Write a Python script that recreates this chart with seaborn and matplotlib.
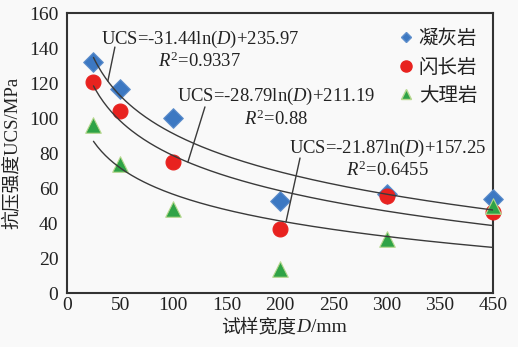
import numpy as np
import pandas as pd
import matplotlib
matplotlib.use("Agg")
import matplotlib.pyplot as plt
import seaborn as sns
from matplotlib.lines import Line2D
from matplotlib.offsetbox import TextArea, HPacker, AnnotationBbox

# ---- data ----
widths = [25, 50, 100, 200, 300, 400]          # plotted positions (last tick labelled 450)
tuff = [132, 117, 100, 53, 57, 54]              # 凝灰岩
diorite = [120.5, 104, 75, 37, 55.5, 46.5]      # 闪长岩
marble = [96, 74, 48, 14, 31, 50]               # 大理岩
rock_names = ["凝灰岩", "闪长岩", "大理岩"]
fit_a = [-31.44, -28.79, -21.87]
fit_b = [235.97, 211.19, 157.25]
fit_r2 = ["0.9337", "0.88", "0.6455"]
xtick_vals = [0, 50, 100, 150, 200, 250, 300, 350, 400]
xtick_labels = ["0", "50", "100", "150", "200", "250", "300", "350", "450"]
ytick_vals = [0, 20, 40, 60, 80, 100, 120, 140, 160]

sns.set_theme(style="white")
plt.rcParams["font.family"] = ["Liberation Serif", "Noto Sans CJK SC"]
plt.rcParams["mathtext.fontset"] = "custom"
plt.rcParams["mathtext.rm"] = "Liberation Serif"
plt.rcParams["mathtext.it"] = "Liberation Serif:italic"

bg = "#f9f9f9"
txt = "#222222"
fig = plt.figure(figsize=(5.18, 3.47), dpi=100, facecolor=bg)
ax = fig.add_axes([0.129, 0.1547, 0.823, 0.807])
ax.set_facecolor(bg)

df = pd.DataFrame({
    "D": widths * 3,
    "UCS": tuff + diorite + marble,
    "rock": [rock_names[0]] * 6 + [rock_names[1]] * 6 + [rock_names[2]] * 6,
})
palette = {rock_names[0]: "#3c78c2", rock_names[1]: "#e8221f", rock_names[2]: "#2fa346"}
markers = {rock_names[0]: "D", rock_names[1]: "o", rock_names[2]: "^"}
edge = {rock_names[0]: "#5f8fcc", rock_names[1]: "#e8221f", rock_names[2]: "#b7d88f"}
sizes = {rock_names[0]: 100, rock_names[1]: 115, rock_names[2]: 125}

for name in rock_names:
    sub = df[df["rock"] == name]
    sns.scatterplot(data=sub, x="D", y="UCS", ax=ax, color=palette[name],
                    marker=markers[name], s=sizes[name], edgecolor=edge[name],
                    linewidth=0.8, zorder=3, legend=False, clip_on=False)

# fitted curves
xs = np.linspace(25, 400, 200)
for a, b in zip(fit_a, fit_b):
    sns.lineplot(x=xs, y=a * np.log(xs) + b, ax=ax, color="#3a3a3a",
                 linewidth=1.0, zorder=4)

# annotations
texts = [
    ((124.9, 139.0), (45.1, 140.7), (38.5, 121.3)),
    ((196.2, 106.2), (129.6, 106.5), (113.6, 75.0)),
    ((300.5, 76.7), (218.8, 77.3), (205.6, 40.7)),
]
for (a, b, r2, (pos, p0, p1)) in zip(fit_a, fit_b, fit_r2, texts):
    ax.text(pos[0], pos[1], "UCS=%.2fln($\\mathit{D}$)+%.2f\n$\\mathit{R}^{2}$=%s" % (a, b, r2),
            ha="center", va="center", fontsize=13.4, color=txt,
            linespacing=1.15, zorder=5)
    ax.plot([p0[0], p1[0]], [p0[1], p1[1]], color="#3a3a3a", linewidth=1.0, zorder=4)

# legend
handles = [
    Line2D([], [], linestyle="none", marker="D", markersize=5.5, color=palette[rock_names[0]],
           markeredgecolor=edge[rock_names[0]]),
    Line2D([], [], linestyle="none", marker="o", markersize=8, color=palette[rock_names[1]],
           markeredgecolor=edge[rock_names[1]]),
    Line2D([], [], linestyle="none", marker="^", markersize=7, color=palette[rock_names[2]],
           markeredgecolor=edge[rock_names[2]]),
]
leg = ax.legend(handles, rock_names, loc="upper left", bbox_to_anchor=(0.75, 0.997),
                frameon=False, handlelength=0.6, handletextpad=0.35,
                labelspacing=0.4, borderpad=0.2,
                prop={"family": ["Noto Sans CJK SC"], "size": 14})
for t in leg.get_texts():
    t.set_color(txt)

ax.set_xlim(0, 400)
ax.set_ylim(0, 160)
ax.set_xticks(xtick_vals)
ax.set_xticklabels(xtick_labels)
ax.set_yticks(ytick_vals)
for s in ax.spines.values():
    s.set_visible(True)
    s.set_color("#333333")
    s.set_linewidth(1.5)
ax.tick_params(axis="x", direction="in", length=4, width=1, colors="#333333",
               labelsize=14, labelcolor=txt, pad=3)
ax.tick_params(axis="y", direction="out", length=4, width=1, colors="#333333",
               labelsize=14, labelcolor=txt, pad=2)
ax.set_xlabel("")
ax.set_ylabel("抗压强度UCS/MPa", fontsize=13.5, color=txt)
ax.yaxis.set_label_coords(-0.106, 0.5)

# x label with italic D
parts = [
    TextArea("试样宽度", textprops=dict(family=["Noto Sans CJK SC"], size=13.5, color=txt)),
    TextArea("D", textprops=dict(family="Liberation Serif", style="italic", size=14, color=txt)),
    TextArea("/mm", textprops=dict(family="Liberation Serif", size=14, color=txt)),
]
box = HPacker(children=parts, align="baseline", pad=0, sep=0)
ab = AnnotationBbox(box, (284 / 518, 1 - 327 / 347), xycoords="figure fraction",
                    frameon=False, box_alignment=(0.5, 0.5))
fig.add_artist(ab)

fig.savefig("out.png", dpi=100, facecolor=bg)
